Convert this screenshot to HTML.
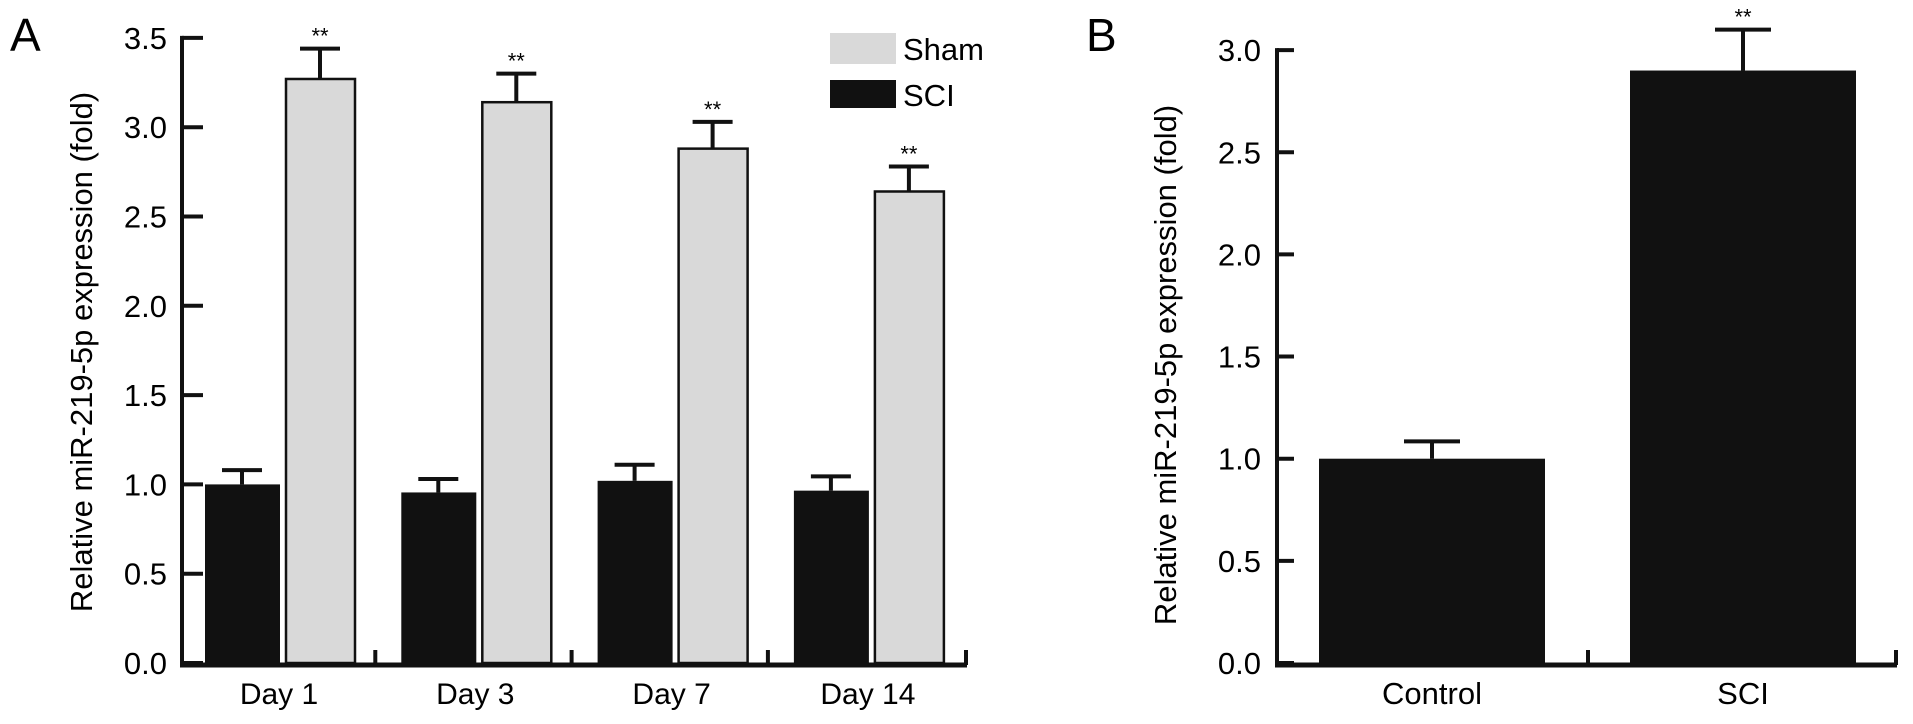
<!DOCTYPE html>
<html><head><meta charset="utf-8"><style>
html,body{margin:0;padding:0;background:#fff;}
svg{display:block;font-family:"Liberation Sans",Arial,sans-serif;}
</style></head><body>
<svg id="fig" width="1913" height="724" viewBox="0 0 1913 724">
<text x="10" y="51" font-size="46">A</text>
<text x="1086" y="51" font-size="46">B</text>
<text transform="translate(92,352) rotate(-90)" text-anchor="middle" font-size="31">Relative miR-219-5p expression (fold)</text>
<text transform="translate(1176,365) rotate(-90)" text-anchor="middle" font-size="31">Relative miR-219-5p expression (fold)</text>
<g>
<rect x="830" y="33" width="66" height="31" fill="#d9d9d9"/>
<text x="903" y="60" font-size="31">Sham</text>
<rect x="830" y="80" width="66" height="28" fill="#111"/>
<text x="903" y="106" font-size="31">SCI</text>
</g>
<g id="ga"></g>
<g id="gb"></g>
</svg>
<script>
const daysA = ["Day 1","Day 3","Day 7","Day 14"];
const sciA = [1.0, 0.955, 1.02, 0.965];
const sciErrA = [0.08, 0.075, 0.09, 0.08];
const shamA = [3.27, 3.14, 2.88, 2.64];
const shamErrA = [0.17, 0.16, 0.15, 0.14];
const ticksA = ["0.0","0.5","1.0","1.5","2.0","2.5","3.0","3.5"];
const catsB = ["Control","SCI"];
const valsB = [1.0, 2.9];
const errB = [0.085, 0.2];
const ticksB = ["0.0","0.5","1.0","1.5","2.0","2.5","3.0"];

const NS="http://www.w3.org/2000/svg";
function mk(p,tag,attrs){const e=document.createElementNS(NS,tag);for(const k in attrs)e.setAttribute(k,attrs[k]);p.appendChild(e);return e;}

// Panel A
const ga=document.getElementById('ga');
const yA=v=>663-v*178.6;
const ax0=182, axEnd=967, g0=205, gStep=196.3;
mk(ga,'line',{x1:ax0,y1:yA(3.5)-2,x2:ax0,y2:667,stroke:'#111','stroke-width':4});
mk(ga,'line',{x1:ax0-2,y1:665,x2:axEnd,y2:665,stroke:'#111','stroke-width':5});
ticksA.forEach((t,i)=>{const v=parseFloat(t);const y=yA(v);
 const tk=mk(ga,'line',{x1:ax0,y1:y,x2:ax0+21,y2:y,stroke:'#111','stroke-width':4});
 
 const tl=mk(ga,'text',{x:167,y:y+11,'text-anchor':'end','font-size':31});tl.textContent=t;
 });
for(let i=1;i<=4;i++){const x=i==4?axEnd-1:g0-26+i*gStep;mk(ga,'line',{x1:x,y1:650,x2:x,y2:665,stroke:'#111','stroke-width':4});}
daysA.forEach((d,i)=>{const xs=g0+i*gStep, xh=xs+80;
 const b1=mk(ga,'rect',{x:xs,y:yA(sciA[i]),width:75,height:663-yA(sciA[i]),fill:'#111'});
 
 const c1=xs+37;
 mk(ga,'line',{x1:c1,y1:yA(sciA[i]),x2:c1,y2:yA(sciA[i]+sciErrA[i]),stroke:'#111','stroke-width':4});
 mk(ga,'line',{x1:c1-20,y1:yA(sciA[i]+sciErrA[i]),x2:c1+20,y2:yA(sciA[i]+sciErrA[i]),stroke:'#111','stroke-width':4});
 const b2=mk(ga,'rect',{x:xh+1,y:yA(shamA[i]),width:69,height:663-yA(shamA[i]),fill:'#d9d9d9',stroke:'#111','stroke-width':2.5});
 
 const c2=xh+35;
 mk(ga,'line',{x1:c2,y1:yA(shamA[i]),x2:c2,y2:yA(shamA[i]+shamErrA[i]),stroke:'#111','stroke-width':4});
 mk(ga,'line',{x1:c2-20,y1:yA(shamA[i]+shamErrA[i]),x2:c2+20,y2:yA(shamA[i]+shamErrA[i]),stroke:'#111','stroke-width':4});
 const st=mk(ga,'text',{x:c2,y:yA(shamA[i]+shamErrA[i])-5,'text-anchor':'middle','font-size':22});st.textContent='**';
 
 const xl=mk(ga,'text',{x:xs+74,y:704,'text-anchor':'middle','font-size':30});xl.textContent=d;
 });

// Panel B
const gb=document.getElementById('gb');
const yB=v=>663-v*204.3;
const bx0=1277, bxEnd=1897;
mk(gb,'line',{x1:bx0,y1:yB(3)-2,x2:bx0,y2:667,stroke:'#111','stroke-width':4});
mk(gb,'line',{x1:bx0-2,y1:665,x2:bxEnd,y2:665,stroke:'#111','stroke-width':5});
ticksB.forEach(t=>{const y=yB(parseFloat(t));
 const tk=mk(gb,'line',{x1:bx0,y1:y,x2:bx0+17,y2:y,stroke:'#111','stroke-width':4});
 
 const tl=mk(gb,'text',{x:1261,y:y+11,'text-anchor':'end','font-size':31});tl.textContent=t;
 });
mk(gb,'line',{x1:1588,y1:650,x2:1588,y2:665,stroke:'#111','stroke-width':4});
mk(gb,'line',{x1:bxEnd-1,y1:650,x2:bxEnd-1,y2:665,stroke:'#111','stroke-width':4});
catsB.forEach((c,i)=>{const xs=1319+i*311, cx=xs+113;
 const b=mk(gb,'rect',{x:xs,y:yB(valsB[i]),width:226,height:663-yB(valsB[i]),fill:'#111'});
 
 mk(gb,'line',{x1:cx,y1:yB(valsB[i]),x2:cx,y2:yB(valsB[i]+errB[i]),stroke:'#111','stroke-width':4});
 mk(gb,'line',{x1:cx-28,y1:yB(valsB[i]+errB[i]),x2:cx+28,y2:yB(valsB[i]+errB[i]),stroke:'#111','stroke-width':4});
 const xl=mk(gb,'text',{x:cx,y:704,'text-anchor':'middle','font-size':31});xl.textContent=c;
 
 if(i==1){const st=mk(gb,'text',{x:cx,y:yB(valsB[i]+errB[i])-5,'text-anchor':'middle','font-size':22});st.textContent='**';
  }});
</script>
</body></html>
